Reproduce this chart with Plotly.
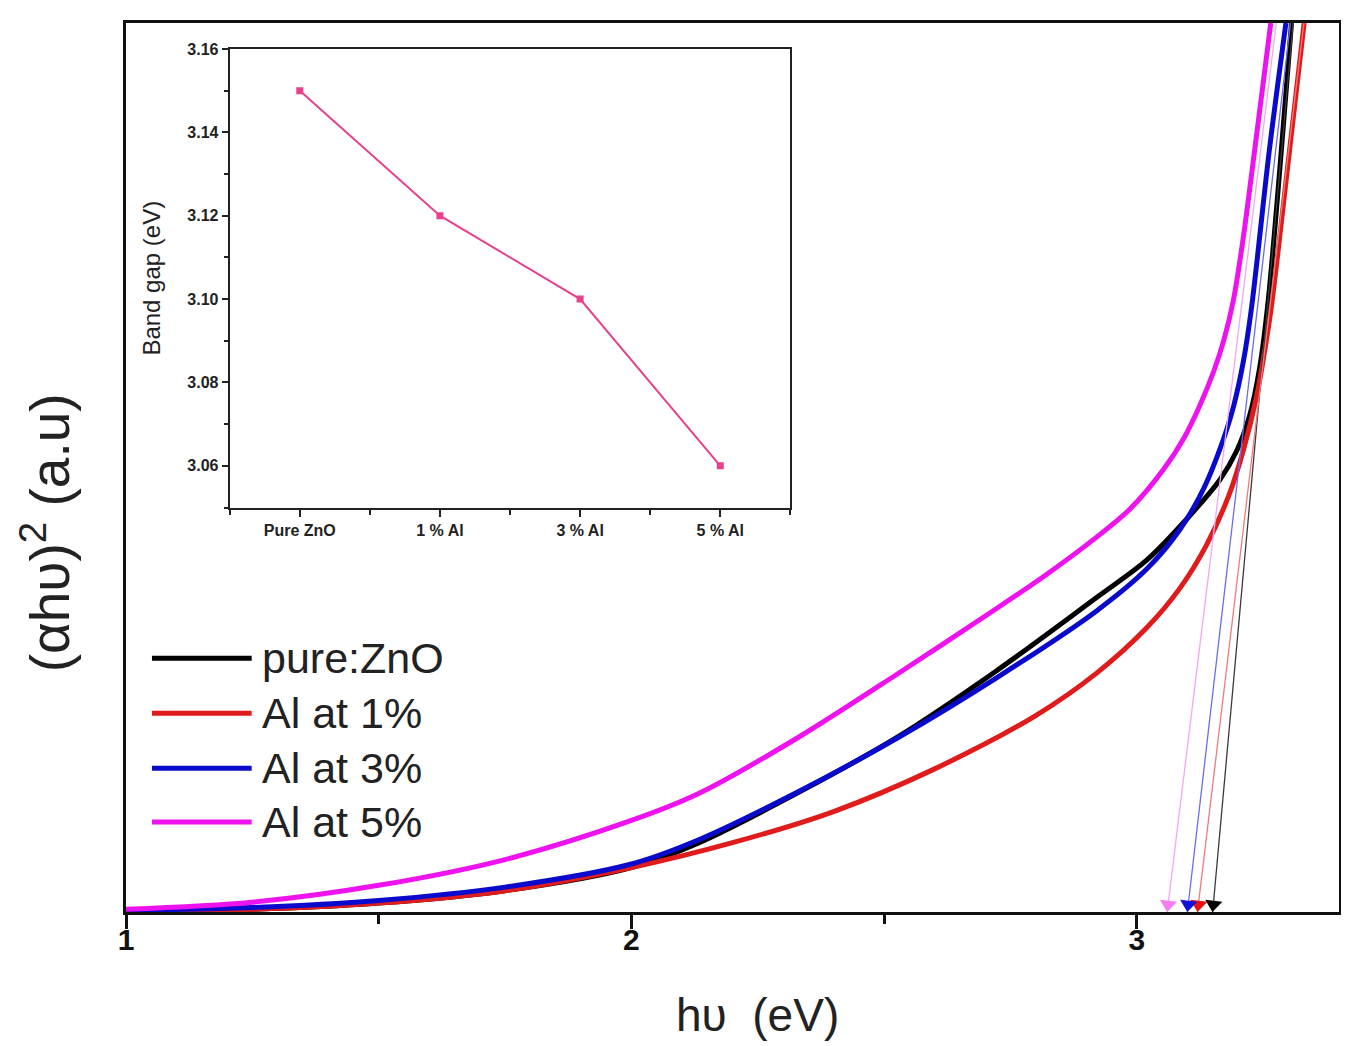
import plotly.graph_objects as go

# ---------------- data ----------------
series_names = ["pure:ZnO", "Al at 1%", "Al at 3%", "Al at 5%"]

pure_x = [1.0, 1.25, 1.5, 1.75, 2.0, 2.132, 2.329, 2.527, 2.724, 2.921, 3.02, 3.105,
          3.164, 3.197, 3.223, 3.243, 3.26, 3.306]
pure_y = [0.1, 0.3, 1.0, 2.4, 5.0, 7.75, 13.4, 19.7, 27.2, 35.4, 39.6, 44.6,
          48.6, 51.8, 55.8, 61.2, 68.8, 100]

al1_x = [1.0, 1.25, 1.5, 1.75, 2.0, 2.2, 2.4, 2.6, 2.8, 2.921, 3.02, 3.085,
         3.138, 3.183, 3.211, 3.237, 3.252, 3.266, 3.302, 3.331]
al1_y = [0.1, 0.3, 1.0, 2.4, 5.0, 7.8, 11.3, 16.1, 22.1, 26.9, 32.0, 36.4,
         41.3, 47.0, 52.0, 58.0, 62.8, 68.0, 85.6, 100]

al3_x = [1.0, 1.25, 1.5, 1.75, 2.0, 2.132, 2.329, 2.527, 2.724, 2.921, 3.02, 3.085,
         3.132, 3.164, 3.191, 3.211, 3.227, 3.262, 3.295]
al3_y = [0.2, 0.5, 1.3, 2.8, 5.4, 8.1, 13.5, 19.6, 26.4, 33.9, 38.6, 43.0,
         47.6, 52.0, 56.8, 62.0, 68.0, 85.6, 100]

al5_x = [1.0, 1.25, 1.5, 1.75, 2.0, 2.132, 2.329, 2.527, 2.724, 2.822, 2.921, 2.986,
         3.053, 3.093, 3.124, 3.152, 3.172, 3.191, 3.21, 3.228, 3.265]
al5_y = [0.3, 1.1, 3.0, 5.9, 10.3, 13.3, 19.6, 26.8, 34.2, 38.0, 42.2, 45.3,
         49.8, 53.3, 56.9, 60.8, 64.3, 68.8, 75.6, 83.4, 100]

# inset: band gap vs doping
inset_categories = ["Pure ZnO", "1 % Al", "3 % Al", "5 % Al"]
band_gap = [3.15, 3.12, 3.10, 3.06]

# tangent (extrapolation) lines: from top of the frame down to the band gap
tangent_top_x = [3.312, 3.333, 3.306, 3.278]
tangent_top_y = [101.7, 101.2, 101.0, 101.0]

main_x_ticks = [1, 2, 3]
inset_y_ticks = [3.06, 3.08, 3.10, 3.12, 3.14, 3.16]

# ---------------- styles ----------------
curve_colors = ["#000000", "#e01b1b", "#0a0acd", "#ee12ee"]
tangent_line_colors = ["#3a3a3a", "#f07a7a", "#6c6cf0", "#f4a6f4"]
tangent_head_colors = ["#000000", "#e81010", "#1010d8", "#f27ef2"]
inset_color = "#e8408c"
FONT = "Liberation Sans, Arial, sans-serif"

fig = go.Figure()

curves = [(pure_x, pure_y), (al1_x, al1_y), (al3_x, al3_y), (al5_x, al5_y)]
for name, (xs, ys), c in zip(series_names, curves, curve_colors):
    fig.add_trace(go.Scatter(
        x=xs, y=ys, mode="lines", name=name,
        line=dict(color=c, width=5, shape="spline", smoothing=0.9),
        showlegend=False, xaxis="x", yaxis="y"))

# tangent lines and arrow heads at the band-gap energies
HEAD_Y = 0.85
for eg, tx, ty, lc, hc in zip(band_gap, tangent_top_x, tangent_top_y,
                              tangent_line_colors, tangent_head_colors):
    fig.add_trace(go.Scatter(
        x=[eg, tx], y=[0, ty], mode="lines",
        line=dict(color=lc, width=1.3), showlegend=False,
        hoverinfo="skip", xaxis="x", yaxis="y"))
    fig.add_trace(go.Scatter(
        x=[eg + (tx - eg) * HEAD_Y / ty], y=[HEAD_Y], mode="markers",
        marker=dict(symbol="triangle-down", size=15, color=hc, angle=7,
                    line=dict(width=0)),
        showlegend=False, hoverinfo="skip", cliponaxis=False,
        xaxis="x", yaxis="y"))

# inset trace
fig.add_trace(go.Scatter(
    x=list(range(len(inset_categories))), y=band_gap, mode="lines+markers",
    line=dict(color=inset_color, width=2),
    marker=dict(symbol="square", size=7, color=inset_color),
    showlegend=False, xaxis="x2", yaxis="y2"))

annotations = []
# custom legend (long line samples as in the reference)
legend_rows_y = [0.2854, 0.2236, 0.1618, 0.1011]
shapes = []
for name, c, ly in zip(series_names, curve_colors, legend_rows_y):
    shapes.append(dict(type="line", xref="paper", yref="paper",
                       x0=0.0214, x1=0.1036, y0=ly, y1=ly,
                       line=dict(color=c, width=5)))
    annotations.append(dict(
        x=0.1105, y=ly, xref="paper", yref="paper", text=name,
        showarrow=False, xanchor="left", yanchor="middle",
        font=dict(family=FONT, size=43, color="#222222")))

# axis titles
annotations.append(dict(
    x=0.521, y=-0.1157, xref="paper", yref="paper", text="hυ  (eV)",
    showarrow=False, xanchor="center", yanchor="middle",
    font=dict(family=FONT, size=46, color="#222222")))
annotations.append(dict(
    x=-0.066, y=0.427, xref="paper", yref="paper",
    text="(αhυ)<sup>2</sup> (a.u)", textangle=-90,
    showarrow=False, xanchor="center", yanchor="middle",
    font=dict(family=FONT, size=55, color="#222222")))

# the page body has an 8 px margin: size and margins compensate for it
fig.update_layout(
    width=1341, height=1038,
    margin=dict(l=118, r=7, t=14, b=134),
    paper_bgcolor="white", plot_bgcolor="white",
    font=dict(family=FONT, color="#111111"),
    xaxis=dict(
        range=[1, 3.4], tickvals=main_x_ticks, ticks="outside", ticklen=14,
        tickwidth=2.5, tickcolor="#111111", ticklabelstandoff=-15,
        minor=dict(tickvals=[1.5, 2.5], ticklen=9, tickwidth=2.5,
                   tickcolor="#111111", ticks="outside"),
        showline=True, linewidth=2.5, linecolor="#111111", mirror=True,
        showgrid=False, zeroline=False,
        tickfont=dict(family=FONT, size=30, weight="bold", color="#111111")),
    yaxis=dict(
        range=[0, 100], showticklabels=False, ticks="", showline=True,
        linewidth=2.5, linecolor="#111111", mirror=True, showgrid=False,
        zeroline=False),
    xaxis2=dict(
        domain=[0.0855, 0.5477], anchor="y2", range=[-0.5, 3.5],
        tickvals=list(range(len(inset_categories))), ticktext=inset_categories,
        ticks="outside", ticklen=7, tickwidth=1.5, tickcolor="#222222",
        minor=dict(tickvals=[-0.5, 0.5, 1.5, 2.5, 3.5], ticklen=5,
                   tickwidth=1.5, tickcolor="#222222", ticks="outside"),
        showline=True, linewidth=2, linecolor="#222222", mirror=True,
        showgrid=False, zeroline=False,
        tickfont=dict(family=FONT, size=16, weight="bold", color="#222222")),
    yaxis2=dict(
        domain=[0.455, 0.9708], anchor="x2", range=[3.05, 3.16],
        tickvals=inset_y_ticks, tickformat=".2f",
        ticks="outside", ticklen=6, tickwidth=1.5, tickcolor="#222222",
        minor=dict(dtick=0.01, ticklen=4, tickwidth=1.5,
                   tickcolor="#222222", ticks="outside"),
        showline=True, linewidth=2, linecolor="#222222", mirror=True,
        showgrid=False, zeroline=False,
        tickfont=dict(family=FONT, size=16, weight="bold", color="#222222"),
        title=dict(text="Band gap (eV)", standoff=20,
                   font=dict(family=FONT, size=24, color="#222222"))),
    shapes=shapes,
    annotations=annotations,
)

fig.write_html("out.html")
